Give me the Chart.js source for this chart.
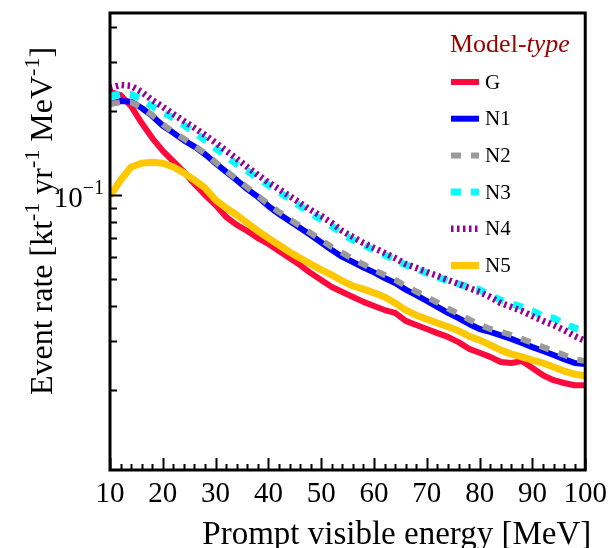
<!DOCTYPE html>
<html>
<head>
<meta charset="utf-8">
<title>Event rate vs prompt visible energy</title>
<script src="https://cdn.jsdelivr.net/npm/chart.js@4.4.1/dist/chart.umd.min.js"></script>
<style>
  html, body { margin: 0; padding: 0; background: #ffffff; }
  canvas { display: block; }
</style>
</head>
<body>
<canvas id="chart" width="614" height="548"></canvas>
<script>
// Prompt visible energy bins [MeV]
const energies = [10, 12, 14, 16, 18, 20, 22, 24, 26, 28, 30, 32, 34, 36, 38, 40, 42, 44, 46, 48,
                  50, 52, 54, 56, 58, 60, 62, 64, 66, 68, 70, 72, 74, 76, 78, 80, 82, 84, 86, 88,
                  90, 92, 94, 96, 98, 100];

// Event rate [kt^-1 yr^-1 MeV^-1] for each model type
const rateG  = [0.234, 0.228, 0.208, 0.181, 0.160, 0.144, 0.132, 0.121, 0.1095, 0.100,
                0.0921, 0.0834, 0.0781, 0.0743, 0.0701, 0.0668, 0.0630, 0.0594, 0.0561, 0.0525,
                0.0496, 0.0468, 0.0449, 0.0431, 0.0414, 0.0400, 0.0387, 0.0378, 0.0354, 0.0342,
                0.0331, 0.0320, 0.0310, 0.0297, 0.0281, 0.0272, 0.0263, 0.0252, 0.0250, 0.0254,
                0.0240, 0.0226, 0.0217, 0.0212, 0.0208, 0.0208];
const rateN1 = [0.212, 0.217, 0.216, 0.205, 0.192, 0.177, 0.167, 0.157, 0.149, 0.140,
                0.130, 0.121, 0.113, 0.105, 0.0984, 0.0913, 0.0855, 0.0807, 0.0762, 0.0719,
                0.0676, 0.0635, 0.0600, 0.0575, 0.0550, 0.0528, 0.0504, 0.0484, 0.0458, 0.0438,
                0.0417, 0.0397, 0.0378, 0.0362, 0.0345, 0.0331, 0.0323, 0.0314, 0.0305, 0.0295,
                0.0285, 0.0276, 0.0267, 0.0258, 0.0250, 0.0248];
const rateN2 = [0.212, 0.215, 0.215, 0.206, 0.1935, 0.179, 0.168, 0.159, 0.150, 0.141,
                0.131, 0.122, 0.114, 0.1064, 0.0992, 0.0928, 0.0869, 0.0820, 0.0774, 0.0731,
                0.0690, 0.0651, 0.0620, 0.0590, 0.0564, 0.0539, 0.0517, 0.0496, 0.0472, 0.0451,
                0.0431, 0.0412, 0.0392, 0.0375, 0.0358, 0.0343, 0.0331, 0.0324, 0.0315, 0.0305,
                0.0295, 0.0285, 0.0276, 0.0267, 0.0258, 0.0254];
const rateN3 = [0.226, 0.230, 0.229, 0.221, 0.208, 0.198, 0.189, 0.178, 0.168, 0.157,
                0.147, 0.138, 0.129, 0.122, 0.115, 0.1086, 0.1025, 0.0968, 0.0913, 0.0862,
                0.0817, 0.0774, 0.0725, 0.0690, 0.0662, 0.0635, 0.0610, 0.0585, 0.0561, 0.0543,
                0.0525, 0.0508, 0.0492, 0.0480, 0.0468, 0.0457, 0.0438, 0.0420, 0.0407, 0.0397,
                0.0384, 0.0368, 0.0362, 0.0345, 0.0334, 0.0323];
const rateN4 = [0.242, 0.248, 0.246, 0.234, 0.219, 0.207, 0.195, 0.184, 0.174, 0.164,
                0.154, 0.144, 0.135, 0.126, 0.118, 0.111, 0.105, 0.0992, 0.0936, 0.0884,
                0.0841, 0.0794, 0.0743, 0.0707, 0.0673, 0.0646, 0.0620, 0.0594, 0.0566, 0.0548,
                0.0530, 0.0513, 0.0496, 0.0480, 0.0464, 0.0449, 0.0431, 0.0410, 0.0397, 0.0384,
                0.0368, 0.0354, 0.0342, 0.0328, 0.0312, 0.0300];
const rateN5 = [0.0992, 0.113, 0.126, 0.130, 0.131, 0.130, 0.126, 0.120, 0.113, 0.106,
                0.0960, 0.0898, 0.0848, 0.0794, 0.0743, 0.0701, 0.0662, 0.0625, 0.0594, 0.0566,
                0.0539, 0.0517, 0.0492, 0.0472, 0.0460, 0.0446, 0.0431, 0.0410, 0.0387, 0.0371,
                0.0359, 0.0348, 0.0337, 0.0326, 0.0312, 0.0302, 0.0290, 0.0278, 0.0269, 0.0263,
                0.0256, 0.0250, 0.0242, 0.0234, 0.0228, 0.0225];

const modelNames = ['G', 'N1', 'N2', 'N3', 'N4', 'N5'];
const modelRates = [rateG, rateN1, rateN2, rateN3, rateN4, rateN5];

// Axis range and tick values
const energyMin = 10, energyMax = 100;
const rateMin = 0.01034, rateMax = 0.449;
const xMajorTicks = [10, 20, 30, 40, 50, 60, 70, 80, 90, 100];
const xMinorStep = 2;
const yTicks = [0.02, 0.03, 0.04, 0.05, 0.06, 0.07, 0.08, 0.09, 0.1, 0.2, 0.3, 0.4];
const yLabelTick = 0.1;

const SERIF = "'Liberation Serif', 'Times New Roman', serif";

// Line styles per model type
const styles = [
  { color: '#ff0a3c', width: 6,   dash: [] },
  { color: '#0000ff', width: 6,   dash: [] },
  { color: '#9a9a9a', width: 6,   dash: [10, 10] },
  { color: '#00ffff', width: 7,   dash: [10, 10] },
  { color: '#990099', width: 6.5, dash: [2.5, 3.5] },
  { color: '#ffc800', width: 7,   dash: [] }
];

const datasets = modelNames.map((name, i) => ({
  label: name,
  data: energies.map((e, k) => ({ x: e, y: modelRates[i][k] })),
  borderColor: styles[i].color,
  backgroundColor: styles[i].color,
  borderWidth: styles[i].width,
  borderDash: styles[i].dash,
  borderCapStyle: 'butt',
  borderJoinStyle: 'round',
  pointRadius: 0,
  tension: 0,
  fill: false,
  clip: 0,
  order: modelNames.length - i
}));

// Draws a run of text pieces, some of them as superscripts
function drawRich(ctx, parts, size, supSize, rise, anchor) {
  const widths = parts.map(p => {
    ctx.font = (p.italic ? 'italic ' : '') + (p.sup ? supSize : size) + 'px ' + SERIF;
    return ctx.measureText(p.t).width;
  });
  const total = widths.reduce((a, b) => a + b, 0);
  let x = anchor === 'center' ? -total / 2 : anchor === 'right' ? -total : 0;
  parts.forEach((p, i) => {
    ctx.font = (p.italic ? 'italic ' : '') + (p.sup ? supSize : size) + 'px ' + SERIF;
    ctx.fillText(p.t, x, p.sup ? -rise : 0);
    x += widths[i];
  });
}

const framePlugin = {
  id: 'frameTicksLegend',
  afterDraw(chart) {
    const ctx = chart.ctx;
    const a = chart.chartArea;
    const xs = chart.scales.x, ys = chart.scales.y;
    ctx.save();
    ctx.strokeStyle = '#000';
    ctx.fillStyle = '#000';

    // inward tick marks on the bottom axis
    ctx.lineWidth = 2;
    ctx.beginPath();
    for (let e = energyMin; e <= energyMax; e += xMinorStep) {
      const px = Math.round(xs.getPixelForValue(e)) + 0.5;
      const len = xMajorTicks.includes(e) ? 12 : 6;
      ctx.moveTo(px, a.bottom);
      ctx.lineTo(px, a.bottom - len);
    }
    // inward tick marks on the left axis
    yTicks.forEach(v => {
      const py = Math.round(ys.getPixelForValue(v)) + 0.5;
      const len = v === yLabelTick ? 12 : 7;
      ctx.moveTo(a.left, py);
      ctx.lineTo(a.left + len, py);
    });
    ctx.stroke();

    // frame
    ctx.lineWidth = 3;
    ctx.strokeRect(a.left, a.top, a.right - a.left, a.bottom - a.top);

    // 10^-1 label
    ctx.save();
    ctx.textBaseline = 'alphabetic';
    ctx.translate(a.left - 6, ys.getPixelForValue(yLabelTick) + 12);
    drawRich(ctx, [{ t: '10' }, { t: '\u22121', sup: true }], 29, 20, 13, 'right');
    ctx.restore();

    // x-axis title, right-aligned to the frame
    ctx.save();
    ctx.textBaseline = 'alphabetic';
    ctx.textAlign = 'right';
    ctx.font = '33px ' + SERIF;
    ctx.fillText('Prompt visible energy [MeV]', a.right + 6, 544);
    ctx.restore();

    // y-axis title, rotated
    ctx.save();
    ctx.textBaseline = 'alphabetic';
    ctx.translate(52, 221);
    ctx.rotate(-Math.PI / 2);
    drawRich(ctx, [
      { t: 'Event rate [kt' }, { t: '-1', sup: true },
      { t: ' yr' }, { t: '-1', sup: true },
      { t: ' MeV' }, { t: '-1', sup: true },
      { t: ']' }
    ], 32, 22, 13, 'center');
    ctx.restore();

    // legend
    ctx.save();
    ctx.textBaseline = 'alphabetic';
    ctx.fillStyle = '#990000';
    ctx.translate(450, 52);
    drawRich(ctx, [{ t: 'Model-' }, { t: 'type', italic: true }], 26, 26, 0, 'left');
    ctx.restore();

    chart.data.datasets.forEach((ds, i) => {
      const y = 82 + i * 36.7;
      ctx.save();
      ctx.strokeStyle = ds.borderColor;
      ctx.lineWidth = ds.borderWidth;
      ctx.setLineDash(ds.borderDash || []);
      ctx.lineCap = 'butt';
      ctx.beginPath();
      ctx.moveTo(451, y);
      ctx.lineTo(479, y);
      ctx.stroke();
      ctx.restore();
      ctx.fillStyle = '#000';
      ctx.font = '21px ' + SERIF;
      ctx.textBaseline = 'middle';
      ctx.textAlign = 'left';
      ctx.fillText(ds.label, 485, y + 1);
    });
    ctx.restore();
  }
};

new Chart(document.getElementById('chart'), {
  type: 'line',
  data: { datasets },
  options: {
    responsive: false,
    devicePixelRatio: 1,
    animation: false,
    layout: { padding: { top: 13, right: 23, left: 0, bottom: 0 } },
    plugins: { legend: { display: false }, tooltip: { enabled: false } },
    scales: {
      x: {
        type: 'linear',
        position: 'bottom',
        min: energyMin,
        max: energyMax,
        grid: { display: false, drawTicks: false },
        border: { display: false },
        ticks: {
          stepSize: 10,
          autoSkip: false,
          maxRotation: 0,
          padding: 7,
          color: '#000',
          font: { family: SERIF, size: 29 }
        },
        afterBuildTicks: scale => { scale.ticks = xMajorTicks.map(v => ({ value: v })); },
        title: { display: false },
        afterFit: scale => { scale.height = 78; }
      },
      y: {
        type: 'logarithmic',
        position: 'left',
        min: rateMin,
        max: rateMax,
        grid: { display: false, drawTicks: false },
        border: { display: false },
        ticks: { display: false },
        afterFit: scale => { scale.width = 110; }
      }
    }
  },
  plugins: [framePlugin]
});
</script>
</body>
</html>
